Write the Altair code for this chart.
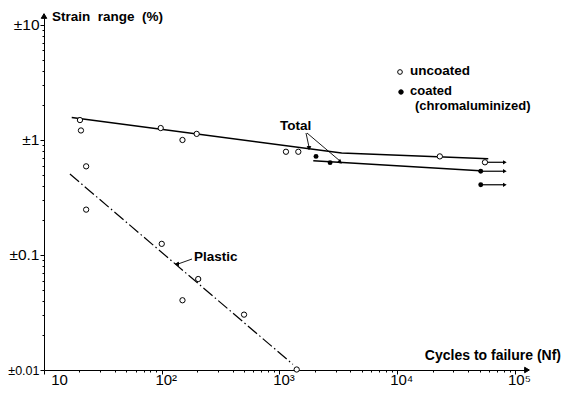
import altair as alt
import pandas as pd

# ---- data ----
# uncoated specimens, total strain range (open circles)
unc_total_n = [20.2, 20.6, 98, 150, 198, 1135, 1445, 23000, 55600]
unc_total_s = [1.49, 1.21, 1.27, 1.0, 1.13, 0.79, 0.79, 0.72, 0.64]
# uncoated specimens, plastic strain range (open circles)
unc_plastic_n = [22.8, 22.8, 100, 150, 204, 500, 1400]
unc_plastic_s = [0.59, 0.248, 0.125, 0.0404, 0.0618, 0.0303, 0.0101]
# coated (chromaluminized) specimens (filled circles)
coat_n = [2043, 2690, 51200, 51200]
coat_s = [0.72, 0.635, 0.535, 0.408]
# run-outs (arrows)
runout_n = [55600, 51200, 51200]
runout_s = [0.64, 0.535, 0.408]
runout_end = [82000, 82000, 82000]
# fitted lines
total_unc_n = [17.2, 3370, 59300]
total_unc_s = [1.57, 0.77, 0.687]
total_coat_n = [1936, 50500]
total_coat_s = [0.66, 0.54]
plastic_n = [16.6, 1300]
plastic_s = [0.506, 0.0112]

# axis ticks
x_major = [10, 100, 1000, 10000, 100000]
x_major_labels = ["10", "10²", "10³", "10⁴", "10⁵"]
y_major = [0.01, 0.1, 1, 10]
y_major_labels = ["±0.01", "±0.1", "±1", "±10"]
x_minor = [m * d for d in [10, 100, 1000, 10000] for m in range(1, 10)] + [100000]
y_minor = [round(m * d, 4) for d in [0.01, 0.1, 1] for m in range(1, 10)] + [10]

FONT = "Liberation Sans"
NB = "\u00a0"


def label_expr(vals, labs):
    expr = "''"
    for v, l in zip(vals, labs):
        expr = f"datum.value == {v} ? '{l}' : ({expr})"
    return expr


def major_test(vals):
    return " || ".join(f"datum.value == {v}" for v in vals)


x_scale = alt.Scale(type="log", domain=[10, 126500], nice=False)
y_scale = alt.Scale(type="log", domain=[0.01, 11.5], nice=False)

x_axis = alt.Axis(
    values=x_minor, labelExpr=label_expr(x_major, x_major_labels), title=None,
    grid=False, labelOverlap=False, labelFlush=False,
    tickSize={"condition": {"test": major_test(x_major), "value": 4}, "value": 2},
    labelOffset={"condition": {"test": "datum.value == 10", "value": 15}, "value": 4},
    labelFont=FONT, labelFontSize=15, labelPadding=-2, labelColor="black",
    domainColor="black", tickColor="black", domainWidth=1,
)
y_axis = alt.Axis(
    values=y_minor, labelExpr=label_expr(y_major, y_major_labels), title=None,
    grid=False, labelOverlap=False, labelFlush=False,
    tickSize={"condition": {"test": major_test(y_major), "value": 4}, "value": 2},
    labelFontSize={"condition": {"test": "datum.value == 0.01", "value": 12.5},
                   "value": 15.5},
    labelFont=FONT, labelPadding=1, labelColor="black",
    domainColor="black", tickColor="black", domainWidth=1,
)

X = lambda f: alt.X(f"{f}:Q", scale=x_scale, axis=x_axis)
Y = lambda f: alt.Y(f"{f}:Q", scale=y_scale, axis=y_axis)

df_unc = pd.DataFrame({"n": unc_total_n + unc_plastic_n, "s": unc_total_s + unc_plastic_s})
df_coat = pd.DataFrame({"n": coat_n, "s": coat_s})
df_run = pd.DataFrame({"n": runout_n, "n2": runout_end, "s": runout_s})
df_tu = pd.DataFrame({"n": total_unc_n, "s": total_unc_s})
df_tc = pd.DataFrame({"n": total_coat_n, "s": total_coat_s})
df_pl = pd.DataFrame({"n": plastic_n, "s": plastic_s})

line_tu = alt.Chart(df_tu).mark_line(color="black", strokeWidth=1.5).encode(x=X("n"), y=Y("s"))
line_tc = alt.Chart(df_tc).mark_line(color="black", strokeWidth=1.5).encode(x=X("n"), y=Y("s"))
line_pl = alt.Chart(df_pl).mark_line(color="black", strokeWidth=1.2, strokeDash=[12, 3, 1.5, 3]).encode(x=X("n"), y=Y("s"))

run_rule = alt.Chart(df_run).mark_rule(color="black", strokeWidth=1.2).encode(
    x=X("n"), x2="n2:Q", y=Y("s"))
run_head = alt.Chart(df_run).mark_point(shape="triangle-right", filled=True, color="black", size=18, opacity=1).encode(
    x=X("n2"), y=Y("s"))

pts_unc = alt.Chart(df_unc).mark_point(shape="circle", filled=True, fill="white", stroke="black",
                                       strokeWidth=1, size=28, opacity=1).encode(x=X("n"), y=Y("s"))
pts_coat = alt.Chart(df_coat).mark_point(shape="circle", filled=True, color="black", size=24, opacity=1).encode(
    x=X("n"), y=Y("s"))

one = alt.Data(values=[{"a": 1}])


def text(t, x, y, align="left", size=13.5, weight="bold"):
    return alt.Chart(one).mark_text(text=t, align=align, baseline="middle", font=FONT,
                                    fontSize=size, fontWeight=weight, color="black").encode(
        x=alt.value(x), y=alt.value(y))


def seg(x1, y1, x2, y2, w=0.9):
    return alt.Chart(one).mark_rule(color="black", strokeWidth=w).encode(
        x=alt.value(x1), y=alt.value(y1), x2=alt.value(x2), y2=alt.value(y2))


def sym(x, y, shape, filled, size=24, angle=0):
    return alt.Chart(one).mark_point(shape=shape, filled=True, fill="black" if filled else "white",
                                     stroke="black", strokeWidth=1, size=size, opacity=1, angle=angle).encode(
        x=alt.value(x), y=alt.value(y))


annotations = [
    text(f"Strain{NB}{NB}range{NB}{NB}(%)", 8, -1.5, size=13.5),
    text("Cycles to failure (Nf)", 517, 338, align="right", size=14),
    text("Total", 236, 108),
    text("Plastic", 150, 239),
    text("uncoated", 366, 53),
    text("coated", 366, 73, size=13),
    text("(chromaluminized)", 371, 88, size=13),
    sym(356, 54, "circle", False, 22),
    sym(357, 74, "circle", True, 20),
    seg(262, 115, 265, 129),
    seg(263, 115, 296, 143),
    seg(148, 241, 134, 246),
    sym(265, 130, "triangle-down", True, 12),
    sym(296, 144, "triangle-down", True, 12, 310),
    sym(133, 246, "triangle-left", True, 12),
    sym(0, -2, "triangle-up", True, 30),
    sym(483, 352, "triangle-right", True, 30),
]

chart = alt.layer(
    line_tu, line_tc, line_pl, run_rule, run_head, pts_unc, pts_coat, *annotations
).properties(
    width=483, height=352,
    autosize=alt.AutoSizeParams(type="none"),
    padding={"left": 36, "top": 10, "right": 36, "bottom": 17},
    background="white",
).configure_view(stroke=None)

chart.save("out.html", embed_options={"renderer": "svg", "actions": False})
